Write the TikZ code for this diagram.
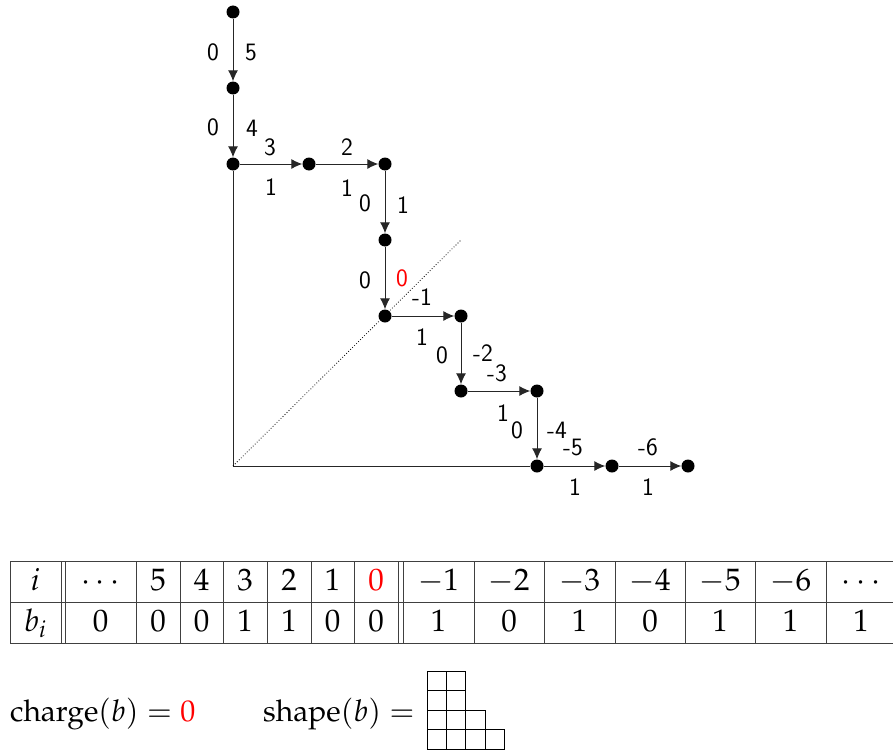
\documentclass[tikz,border=0pt]{standalone}
\usepackage{mathpazo}
\usetikzlibrary{arrows.meta}
\begin{document}
\begin{tikzpicture}[x=1pt,y=-1pt,
  dot/.style={circle,fill=black,inner sep=0pt,minimum size=13pt},
  arr/.style={-{Latex[length=11pt,width=10pt]},line width=1pt,draw=black!85},
  ln/.style={line width=1pt,draw=black!85},
  lab/.style={font=\sffamily\fontsize{25}{30}\selectfont,inner sep=0pt},
  tab/.style={font=\fontsize{31}{36}\selectfont,inner sep=0pt,anchor=base},
  tl/.style={line width=0.9pt,draw=black!75},
  yd/.style={line width=0.9pt,draw=black}]
\useasboundingbox (0,0) rectangle (893,752);
% lattice path
\node[dot] (n0) at (233,12) {};
\node[dot] (n1) at (233,88) {};
\node[dot] (n2) at (233,164) {};
\node[dot] (n3) at (309,164) {};
\node[dot] (n4) at (385,164) {};
\node[dot] (n5) at (385,240) {};
\node[dot] (n6) at (385,316) {};
\node[dot] (n7) at (461,316) {};
\node[dot] (n8) at (461,391) {};
\node[dot] (n9) at (537,391) {};
\node[dot] (n10) at (537,466) {};
\node[dot] (n11) at (612,466) {};
\node[dot] (n12) at (688,466) {};
\coordinate (c) at (233,466);
\coordinate (d) at (461,240);
\draw[ln] (n2) -- (c) -- (n10);
\draw[dotted,line width=0.8pt] (c) -- (d);
\draw[arr] (n0) -- (n1);
\draw[arr] (n1) -- (n2);
\draw[arr] (n2) -- (n3);
\draw[arr] (n3) -- (n4);
\draw[arr] (n4) -- (n5);
\draw[arr] (n5) -- (n6);
\draw[arr] (n6) -- (n7);
\draw[arr] (n7) -- (n8);
\draw[arr] (n8) -- (n9);
\draw[arr] (n9) -- (n10);
\draw[arr] (n10) -- (n11);
\draw[arr] (n11) -- (n12);
% labels
\node[lab] (a1) at (213,52) {0};
\node[lab] (b1) at (251,52) {5};
\node[lab] (a2) at (213,127) {0};
\node[lab] (b2) at (252,128) {4};
\node[lab] (a3) at (270,147) {3};
\node[lab] (b3) at (271,187) {1};
\node[lab] (a4) at (347,147) {2};
\node[lab] (b4) at (347,188) {1};
\node[lab] (a5) at (365,203) {0};
\node[lab] (b5) at (403,205) {1};
\node[lab] (a6) at (365,280) {0};
\node[lab,text=red] (b6) at (402,278) {0};
\node[lab] (a7) at (422,297) {-1};
\node[lab] (b7) at (422,337) {1};
\node[lab] (a8) at (442,355) {0};
\node[lab] (b8) at (483,353) {-2};
\node[lab] (a9) at (497,373) {-3};
\node[lab] (b9) at (503,413) {1};
\node[lab] (a10) at (517,430) {0};
\node[lab] (b10) at (557,430.5) {-4};
\node[lab] (a11) at (573,447) {-5};
\node[lab] (b11) at (575,487.5) {1};
\node[lab] (a12) at (648,447) {-6};
\node[lab] (b12) at (648,487.5) {1};
% table
\draw[tl] (10,561) -- (900,561);
\draw[tl] (10,602) -- (900,602);
\draw[tl] (10,643) -- (900,643);
\foreach \x in {10,61,65,136,180,223,267,311,354,398,403,474,544,615,685,755,826,896}
  \draw[tl] (\x,561) -- (\x,643);
\foreach \x/\t/\u [count=\k] in {35.5/i/b_i, 100.5/\cdots/0, 158/5/0, 201.5/4/0, 245/3/1, 289/2/1, 332.5/1/0, 376/{\color{red}0}/0, 438.5/-1/1, 509/-2/0, 579.5/-3/1, 650/-4/0, 720/-5/1, 790.5/-6/1, 861/\cdots/1}
{
  \node[tab] (r\k) at (\x,590) {$\t$};
  \node[tab] (s\k) at (\x,631) {$\u$};
}
% charge and shape
\node[font=\fontsize{30}{35}\selectfont,inner sep=0pt,anchor=base west] (ch) at (10,721) {$\mathrm{charge}(b) = {\color{red}0}$};
\node[font=\fontsize{30}{35}\selectfont,inner sep=0pt,anchor=base west] (sh) at (263,721) {$\mathrm{shape}(b) =$};
\foreach \i/\j in {0/0,1/0,0/1,1/1,0/2,1/2,2/2,0/3,1/3,2/3,3/3}
  \draw[yd] (427+19.4*\i,671+19.5*\j) rectangle ++(19.4,19.5);
\end{tikzpicture}
\end{document}
